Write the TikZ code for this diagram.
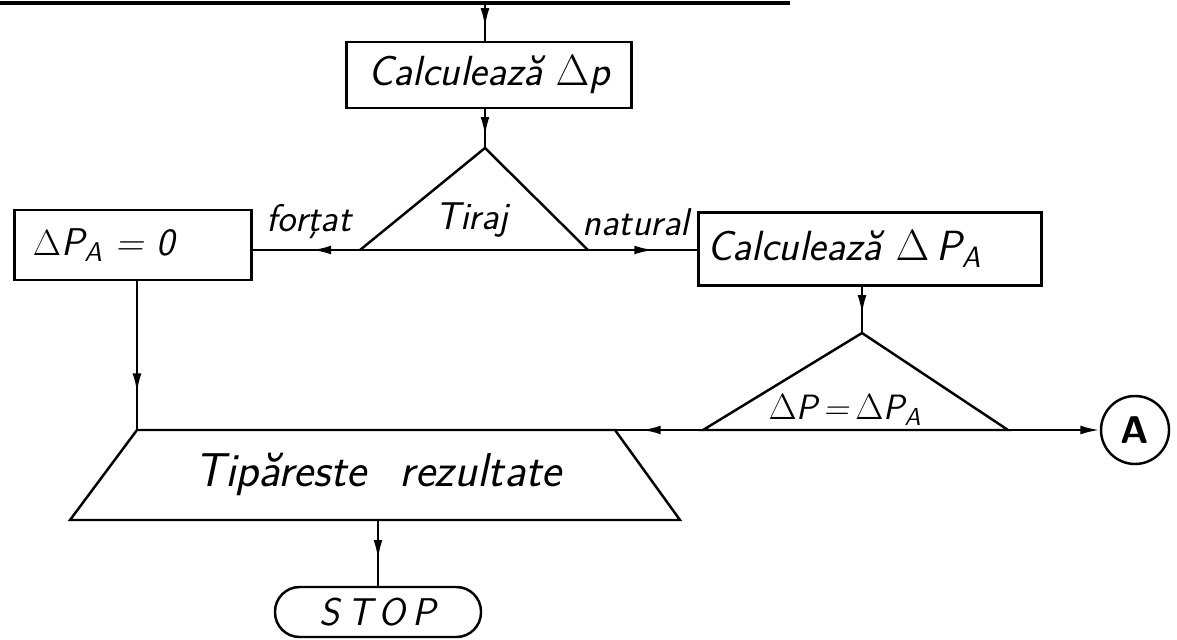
\documentclass[tikz,border=0pt]{standalone}
\usepackage{tikz}
\usetikzlibrary{arrows.meta,decorations.markings}

\begin{document}
\begin{tikzpicture}[x=0.2mm,y=-0.2mm,line width=1.4pt,
    every node/.style={font=\sffamily\itshape\fontsize{24}{28}\selectfont},
    proc_box/.style={draw,rectangle,inner sep=5pt},
    lbl/.style={font=\sffamily\itshape\fontsize{22}{26}\selectfont},
    mid_arrow/.style={postaction={decorate},decoration={markings,mark=at position #1 with {\arrow{Latex[length=11pt,width=5pt]}}}},
    mid_arrow/.default=0.6]

    \useasboundingbox (0,0) rectangle (1177,639);

    \coordinate (top_l) at (0,3);
    \coordinate (top_r) at (790,3);
    \draw[line width=2.2pt] (top_l) -- (top_r);

    \node[proc_box,minimum width=5.7cm,minimum height=1.32cm] (calc_p) at (489,75) {Calculează $\Delta$p};

    % decizie tiraj
    \coordinate (tir_top) at (485,148);
    \coordinate (tir_l) at (360,250);
    \coordinate (tir_r) at (588,250);
    \draw (tir_l) -- (tir_top) -- (tir_r);
    \node[lbl] (lbl_tiraj) at (472,220) {Tiraj};
    \node[lbl] (lbl_fortat) at (309,222) {forţat};
    \node[lbl] (lbl_natural) at (636,222) {natural};

    \node[proc_box,minimum width=4.74cm,minimum height=1.4cm,text width=4.0cm,align=left,font=\sffamily\itshape\fontsize{22}{26}\selectfont] (zero) at (133,245) {$\Delta$P\textsubscript{A} = 0};
    \node[proc_box,minimum width=6.8cm,minimum height=1.46cm,text width=6.5cm,align=left] (calc_pa) at (870,249) {Calculează $\Delta$\,P\textsubscript{A}};

    % decizie dp = dpa
    \coordinate (dp_top) at (862,333);
    \coordinate (dp_l) at (703,430);
    \coordinate (dp_r) at (1008,430);
    \draw (dp_l) -- (dp_top) -- (dp_r) -- cycle;
    \node[font=\sffamily\itshape\fontsize{20}{24}\selectfont] (lbl_eq) at (845,410) {$\Delta$P\,=\,$\Delta$P\textsubscript{A}};

    \node[draw,circle,minimum size=1.36cm,inner sep=0pt,font=\sffamily\bfseries\fontsize{22}{26}\selectfont] (conn_a) at (1135,430) {A};

    % tipareste
    \coordinate (tip_tl) at (137,430);
    \coordinate (tip_tr) at (615,430);
    \coordinate (tip_br) at (680,520);
    \coordinate (tip_bl) at (70,520);
    \coordinate (tip_b) at (378,520);
    \draw (tip_tl) -- (tip_tr) -- (tip_br) -- (tip_bl) -- cycle;
    \node[font=\sffamily\itshape\fontsize{27}{32}\selectfont] (tip) at (378,474) {Tipăreste\hspace{0.7em}rezultate};

    \node[draw,rounded corners=14pt,minimum width=4.12cm,minimum height=1.0cm,font=\sffamily\itshape\fontsize{22}{26}\selectfont] (stop) at (378,612) {S\hspace{4pt}T\hspace{4pt}O\hspace{4pt}P};

    \draw[mid_arrow=0.65] (tir_top |- top_l) -- (tir_top |- calc_p.north);
    \draw[mid_arrow=0.7] (tir_top |- calc_p.south) -- (tir_top);
    \draw (tir_l) -- (tir_r);
    \draw[mid_arrow=0.45] (tir_l) -- (tir_l -| zero.east);
    \draw[mid_arrow=0.6] (tir_r) -- (tir_r -| calc_pa.west);
    \draw[mid_arrow=0.6] (dp_top |- calc_pa.south) -- (dp_top);
    \draw[mid_arrow=0.75] (zero.south -| tip_tl) -- (tip_tl);
    \draw[mid_arrow=0.7] (dp_l) -- (tip_tr);
    \draw[-{Latex[length=11pt,width=5pt]}] (dp_r) -- (conn_a.west);
    \draw[mid_arrow=0.6] (tip_b) -- (stop.north);
\end{tikzpicture}
\end{document}
